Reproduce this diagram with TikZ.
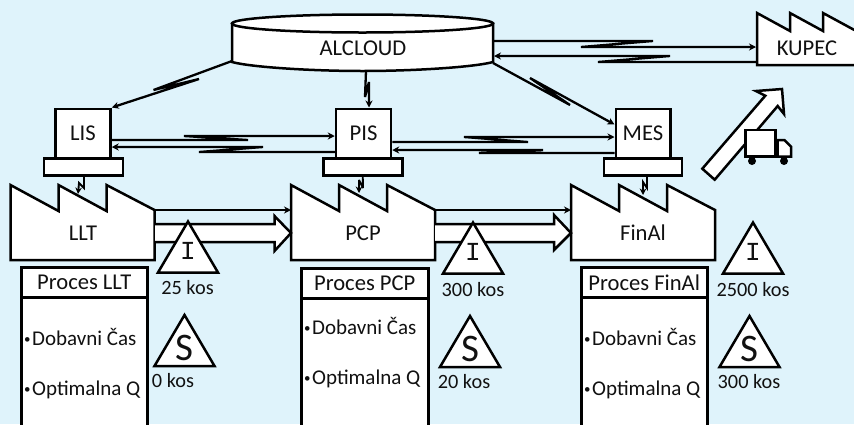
\documentclass[tikz,border=0pt]{standalone}
\usepackage{fontspec}
\setmainfont{Carlito}
\newfontfamily\slabfont{Liberation Mono}
\usetikzlibrary{arrows.meta}
\definecolor{bgblue}{HTML}{DFF3FB}
\definecolor{inkc}{HTML}{111111}
\tikzset{
  x=1pt,y=-1pt,
  shapeline/.style={draw=black,line width=2.5pt,fill=white,line join=miter},
  boxnode/.style={shapeline,rectangle,inner sep=0pt,text=inkc,font=\fontsize{22.6}{24}\selectfont},
  label/.style={inner sep=0pt,text=inkc,font=\fontsize{22.6}{24}\selectfont},
  kos/.style={inner sep=0pt,text=inkc,font=\fontsize{20.3}{24}\selectfont},
  bulletlabel/.style={inner sep=0pt,anchor=base west,text=inkc,font=\fontsize{21}{24}\selectfont},
  link/.style={draw=black,line width=2.3pt,-{Stealth[length=7pt,width=7pt]},line join=miter,miter limit=5},
  smalllink/.style={draw=black,line width=1.9pt,-{Stealth[length=6.5pt,width=6.5pt]},line join=miter,miter limit=4},
}
\newcommand{\mkfactory}[3]{% name, left x, label
  \draw[shapeline] (#2,185) -- ++(48,26) -- ++(0,-26) -- ++(48,26) -- ++(0,-26) -- ++(48,25) -- ++(0,50) -- (#2,260) -- cycle;
}
\newcommand{\mktri}[5]{% name, apex x, apex y, letter offset, letter
  \draw[shapeline] (#2,#3) -- ++(30,51) -- ++(-60,0) -- cycle;
  \node[inner sep=0pt,text=inkc] (#1) at (#2,#3+#4) {#5};
}
\newcommand{\Ilet}{\slabfont\fontsize{26}{26}\selectfont I}
\newcommand{\Slet}{\fontsize{39}{39}\selectfont S}
\newcommand{\bul}{{\fontsize{13}{13}\selectfont\raisebox{1.5pt}{•}}\kern1.5pt}
\begin{document}
\begin{tikzpicture}
\fill[bgblue] (0,0) rectangle (854,424);
\useasboundingbox (0,0) rectangle (854,424);
\clip (0,0) rectangle (854,424);

% cloud database
\draw[shapeline] (232,23.5) -- (232,62) .. controls (250,67) and (310,71) .. (362.5,71) .. controls (415,71) and (475,67) .. (493,62) -- (493,23.5) -- cycle;
\draw[shapeline] (362.5,23.5) ellipse [x radius=130.5,y radius=9];
\node[label] (alcloud) at (363,48) {ALCLOUD};
\coordinate (cloudLis) at (232,61);
\coordinate (cloudPis) at (366,71);
\coordinate (cloudMes) at (493,63);
\coordinate (cloudOut) at (494,41);
\coordinate (cloudIn) at (494,56);

% kupec
\draw[shapeline] (757,13) -- (790,31) -- (790,13) -- (823,31) -- (823,13) -- (858,32) -- (858,65) -- (757,65) -- cycle;
\node[label] (kupec) at (807,48) {KUPEC};
\coordinate (kupecIn) at (756,47);
\coordinate (kupecOut) at (756,62);

% information systems
\node[boxnode,minimum width=79pt,minimum height=17pt] (lisbase) at (83.5,167) {};
\node[boxnode,minimum width=79pt,minimum height=17pt] (pisbase) at (362.75,167) {};
\node[boxnode,minimum width=78pt,minimum height=17pt] (mesbase) at (643,167) {};
\node[boxnode,minimum width=55pt,minimum height=49.5pt] (lis) at (83,133.5) {LIS};
\node[boxnode,minimum width=55pt,minimum height=49.5pt] (pis) at (363.5,133.5) {PIS};
\node[boxnode,minimum width=54.5pt,minimum height=49.5pt] (mes) at (643,133.5) {MES};

% factories
\mkfactory{llt}{10.5}{}
\mkfactory{pcp}{291}{}
\mkfactory{final}{571}{}
\node[label] (lltl) at (83,233) {LLT};
\node[label] (pcpl) at (363,233) {PCP};
\node[label] (finall) at (643,233) {FinAl};
\coordinate (lltE) at (154.5,210);
\coordinate (pcpW) at (291,210);
\coordinate (pcpE) at (435,210);
\coordinate (finalW) at (571,210);
\coordinate (lltT) at (78,194);
\coordinate (pcpT) at (359,193);
\coordinate (finalT) at (643,195);

% flow links
\draw[link] (lltE) -- (pcpW);
\draw[link] (pcpE) -- (finalW);
\draw[shapeline] (155,224) -- (274.5,224) -- (274.5,216) -- (291,233) -- (274.5,251) -- (274.5,242) -- (155,242);
\draw[shapeline] (435,224) -- (554,224) -- (554,215) -- (571,233) -- (554,250) -- (554,242) -- (435,242);

% process boxes
\node[boxnode,anchor=north west,minimum width=126pt,minimum height=30pt] (phead1) at (20,266) {Proces LLT};
\node[boxnode,anchor=north west,minimum width=126pt,minimum height=140pt] (pbody1) at (20,296) {};
\node[boxnode,anchor=north west,minimum width=127pt,minimum height=30pt] (phead2) at (300,267) {Proces PCP};
\node[boxnode,anchor=north west,minimum width=127pt,minimum height=140pt] (pbody2) at (300,297) {};
\node[boxnode,anchor=north west,minimum width=126pt,minimum height=30pt] (phead3) at (580,266) {Proces FinAl};
\node[boxnode,anchor=north west,minimum width=126pt,minimum height=140pt] (pbody3) at (580,296) {};
\node[bulletlabel] (d1) at (24,345) {\bul Dobavni Čas};
\node[bulletlabel] (o1) at (24,395) {\bul Optimalna Q};
\node[bulletlabel] (d2) at (304,334) {\bul Dobavni Čas};
\node[bulletlabel] (o2) at (304,384) {\bul Optimalna Q};
\node[bulletlabel] (d3) at (584,345) {\bul Dobavni Čas};
\node[bulletlabel] (o3) at (584,395) {\bul Optimalna Q};

% triangles
\mktri{i1}{188}{221.5}{29.5}{\Ilet}
\mktri{s1}{184.5}{315}{33}{\Slet}
\mktri{i2}{473}{222.5}{29.5}{\Ilet}
\mktri{s2}{470}{316}{33}{\Slet}
\mktri{i3}{753}{222.5}{29.5}{\Ilet}
\mktri{s3}{749.5}{316}{33}{\Slet}
\node[kos] (q1) at (187.5,288) {25 kos};
\node[kos] (q2) at (173,381) {0 kos};
\node[kos] (q3) at (473,290) {300 kos};
\node[kos] (q4) at (464,382) {20 kos};
\node[kos] (q5) at (753,290) {2500 kos};
\node[kos] (q6) at (749,382) {300 kos};

% electronic links
\draw[link] (cloudLis) -- (153.5,90) -- (199,79) -- (lis.north east);
\draw[link] (cloudPis) -- (365,97) -- (369,82) -- ([xshift=5.5pt]pis.north);
\draw[link] (cloudMes) -- (570,105) -- (530,78) -- ([yshift=9pt]mes.west);
\draw[link] (cloudOut) -- (653,41) -- (581,47) -- (kupecIn);
\draw[link] (kupecOut) -- (598,62) -- (670,56) -- (cloudIn);
\draw[link] ([yshift=-6.5pt]lis.east) -- (248,140) -- (184,136) -- ([yshift=-2.5pt]pis.west);
\draw[link] ([yshift=-18.5pt]pis.west) -- (199,152) -- (263,147) -- ([yshift=-13.5pt]lis.east);
\draw[link] ([yshift=-8.5pt]pis.east) -- (528,142) -- (464,137) -- ([yshift=-3.5pt]mes.west);
\draw[link] ([yshift=-19.5pt]mes.west) -- (479,153) -- (543,150) -- ([yshift=-16.5pt]pis.east);
\draw[smalllink] ([xshift=0.5pt]lisbase.south) -- (84,188) -- (79,183) -- (lltT);
\draw[smalllink] (pisbase.south) -- (363,188) -- (359,180) -- (pcpT);
\draw[smalllink] ([xshift=4pt]mesbase.south) -- (647,188) -- (643,182) -- (finalT);

% shipment arrow and truck
\draw[shapeline] (702.3,168.7) -- (765.3,95.7) -- (756,91) -- (782,89) -- (784,114) -- (777.7,106) -- (714.7,179.7) -- cycle;
\draw[shapeline] (745.3,130) rectangle (775.7,156.7);
\draw[shapeline] (777.7,140) -- (784.3,140) -- (791,146.7) -- (791,156.7) -- (777.7,156.7) -- cycle;
\fill[black] (752,161) circle (4);
\fill[black] (784,161) circle (4);
\end{tikzpicture}
\end{document}
